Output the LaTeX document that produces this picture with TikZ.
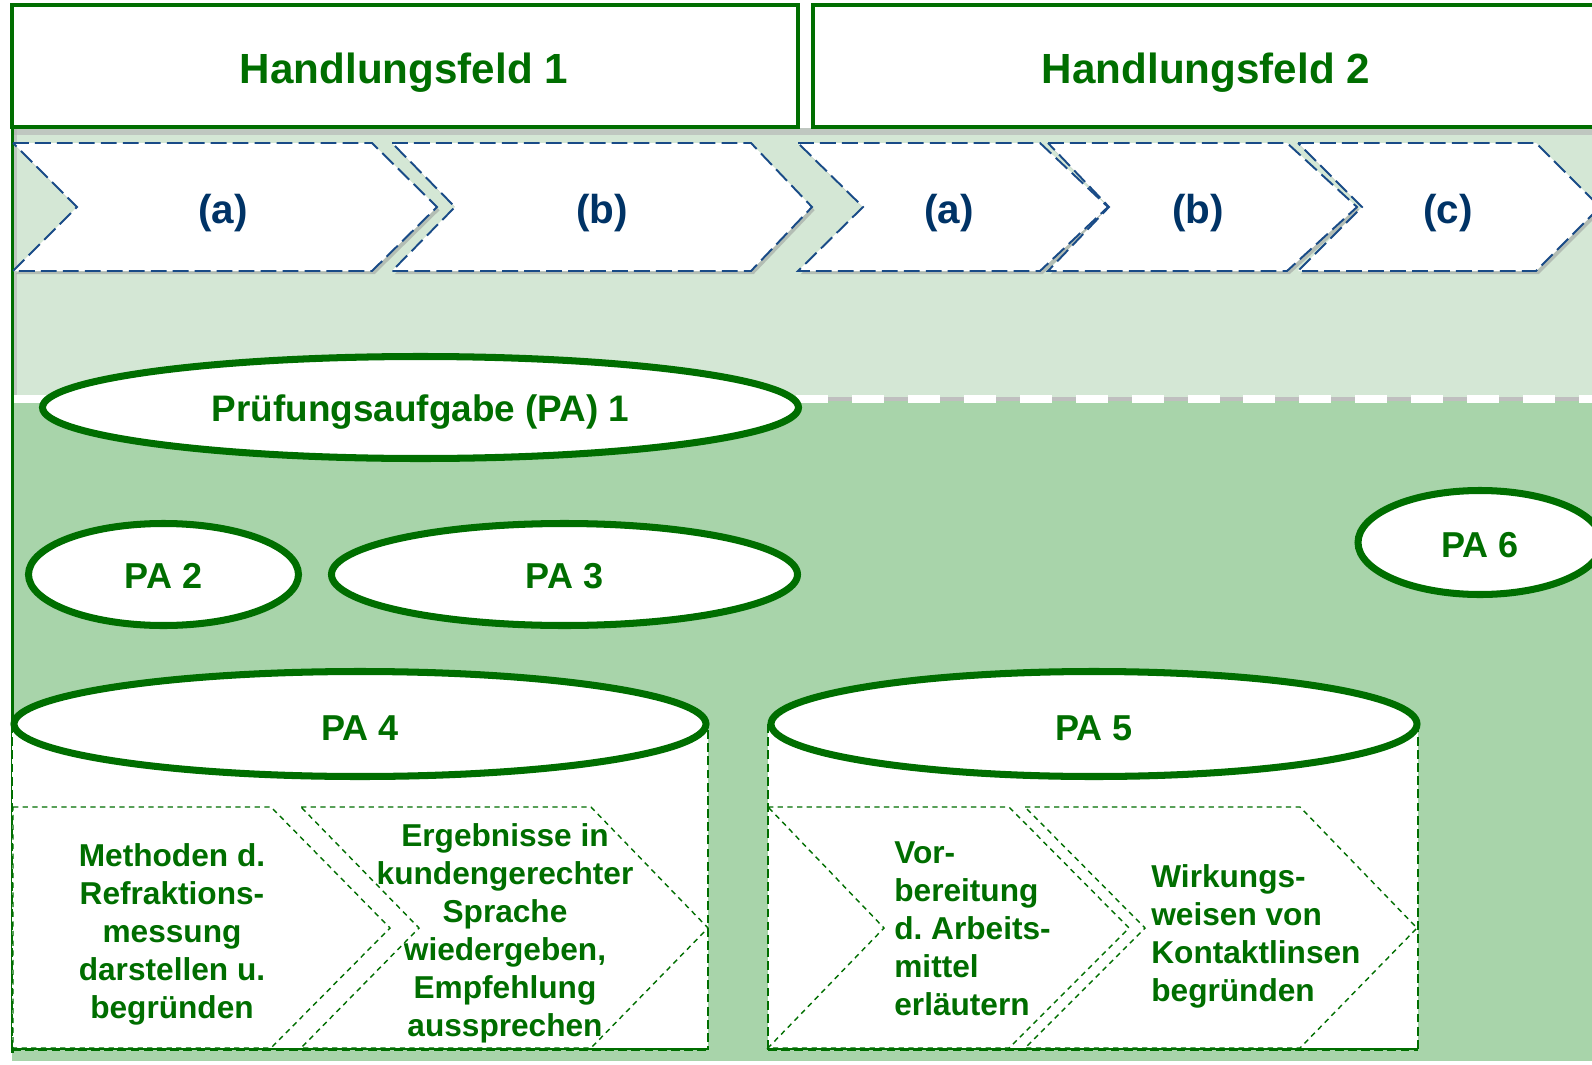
\documentclass[tikz,border=0pt]{standalone}
\usepackage{fontspec}
\setmainfont{Liberation Sans}
\usetikzlibrary{shadows}
\frenchspacing

\definecolor{hfgreen}{RGB}{0,110,0}
\definecolor{bandlight}{RGB}{212,231,213}
\definecolor{bandmid}{RGB}{168,212,170}
\definecolor{stepblue}{RGB}{0,51,102}
\definecolor{stepline}{RGB}{25,75,135}

\begin{document}
\begin{tikzpicture}[scale=0.2]
\tikzstyle{every node}+=[inner sep=0pt]
\tikzstyle{stepbox}=[stepline, fill=white, line width=1.1pt, dash pattern=on 9pt off 3.5pt,
  drop shadow={shadow xshift=1.5pt, shadow yshift=-1.8pt, fill=black!45, opacity=0.45}]
\tikzstyle{steplabel}=[stepblue, font=\fontsize{23}{27}\selectfont\bfseries]
\tikzstyle{hfbox}=[hfgreen, fill=white, line width=2.3pt]
\tikzstyle{hflabel}=[hfgreen, font=\fontsize{24}{29}\selectfont\bfseries]
\tikzstyle{paoval}=[hfgreen, fill=white, line width=4pt]
\tikzstyle{palabel}=[hfgreen, font=\fontsize{20.5}{25}\selectfont\bfseries]
\tikzstyle{cylside}=[hfgreen, line width=1.1pt, dash pattern=on 5pt off 2.5pt]
\tikzstyle{subbox}=[hfgreen, line width=0.8pt, dash pattern=on 3pt off 2.5pt]
\tikzstyle{subtext}=[hfgreen, font=\fontsize{18}{21.6}\selectfont\bfseries\frenchspacing]
\useasboundingbox (0,0) rectangle (159.2,-106.5);
\clip (0,0) rectangle (159.2,-106.5);
% background bands
\fill [bandlight] (1.2,-12.8) rectangle (159.2,-39.9);
\fill [bandmid] (1.2,-39.9) rectangle (159.2,-106.1);
\fill [black!30, opacity=0.6] (1.2,-12.8) rectangle (159.2,-13.5);
\fill [black!30, opacity=0.6] (1.2,-12.8) rectangle (1.7,-39.5);
\draw [black!25, line width=1.8pt] (1.4,-39.9) -- (159.2,-39.9);
\draw [white, line width=4.5pt, dash pattern=on 18.2pt off 13.6pt] (1.4,-39.9) -- (159.2,-39.9);
\draw [hfgreen, line width=1.7pt] (1.25,-12.8) -- (1.25,-105.3);
% Handlungsfelder
\draw [hfbox] (1.2,-0.5) rectangle (79.8,-12.7);
\draw (40.4,-7.3) node (hf1) [hflabel] {Handlungsfeld 1};
\draw [hfbox] (81.3,-0.5) rectangle (161,-12.7);
\draw (120.6,-7.3) node (hf2) [hflabel] {Handlungsfeld 2};
% steps
\draw [stepbox] (1.3,-14.3) -- (37.2,-14.3) -- (43.7,-20.7) -- (37.2,-27.1) -- (1.3,-27.1) -- (7.7,-20.7) -- cycle;
\draw (22.3,-21.3) node (s1a) [steplabel] {(a)};
\draw [stepbox] (39.2,-14.3) -- (75.1,-14.3) -- (81.2,-20.7) -- (75.1,-27.1) -- (39.2,-27.1) -- (45.5,-20.7) -- cycle;
\draw (60.2,-21.3) node (s1b) [steplabel] {(b)};
\draw [stepbox] (79.8,-14.3) -- (104.0,-14.3) -- (110.8,-20.7) -- (104.0,-27.1) -- (79.8,-27.1) -- (86.3,-20.7) -- cycle;
\draw (94.9,-21.3) node (s2a) [steplabel] {(a)};
\draw [stepbox] (104.8,-14.3) -- (128.7,-14.3) -- (135.7,-20.7) -- (128.7,-27.1) -- (104.8,-27.1) -- (110.9,-20.7) -- cycle;
\draw (119.8,-21.3) node (s2b) [steplabel] {(b)};
\draw [stepbox] (129.8,-14.3) -- (153.6,-14.3) -- (160.0,-20.7) -- (153.6,-27.1) -- (129.8,-27.1) -- (136.2,-20.7) -- cycle;
\draw (144.8,-21.3) node (s2c) [steplabel] {(c)};
% Pruefungsaufgaben
\draw [paoval] (42.05,-40.75) ellipse (37.8 and 5.1);
\draw (42.05,-41.2) node (pa1) [palabel, font=\fontsize{21}{25}\selectfont\bfseries] {Prüfungsaufgabe (PA) 1};
\draw [paoval] (16.35,-57.45) ellipse (13.5 and 5.1);
\draw (16.35,-57.6) node (pa2) [palabel] {PA 2};
\draw [paoval] (56.45,-57.45) ellipse (23.3 and 5.1);
\draw (56.45,-57.6) node (pa3) [palabel] {PA 3};
\draw [paoval] (148.0,-54.25) ellipse (12.2 and 5.2);
\draw (148.0,-54.5) node (pa6) [palabel] {PA 6};
% PA 4
\fill [white] (1.2,-72.4) rectangle (70.8,-104.9);
\draw [cylside] (1.2,-72.4) -- (1.2,-104.9) -- (70.8,-104.9) -- (70.8,-72.4);
\draw [hfgreen, line width=1.7pt, dash pattern=on 5pt off 2.5pt] (1.2,-104.9) -- (70.8,-104.9);
\draw [subbox] (1.3,-80.7) -- (27.1,-80.7) -- (39.0,-92.8) -- (27.1,-104.8) -- (1.3,-104.8) -- cycle;
\draw (17.2,-93.4) node (pa4a) [subtext, align=center] {Methoden d.\\Refraktions-\\messung\\darstellen u.\\begründen};
\draw [subbox] (30.1,-80.7) -- (59.1,-80.7) -- (70.8,-92.8) -- (59.1,-104.8) -- (30.1,-104.8) -- (41.9,-92.8) -- cycle;
\draw (50.5,-93.3) node (pa4b) [subtext, align=center] {Ergebnisse in\\kundengerechter\\Sprache\\wiedergeben,\\Empfehlung\\aussprechen};
\draw [paoval] (36.0,-72.4) ellipse (34.6 and 5.25);
\draw (36.0,-72.8) node (pa4) [palabel] {PA 4};
% PA 5
\fill [white] (76.8,-72.4) rectangle (141.8,-104.9);
\draw [cylside] (76.8,-72.4) -- (76.8,-104.9) -- (141.8,-104.9) -- (141.8,-72.4);
\draw [hfgreen, line width=1.7pt, dash pattern=on 5pt off 2.5pt] (76.8,-104.9) -- (141.8,-104.9);
\draw [subbox] (76.8,-80.7) -- (100.9,-80.7) -- (112.9,-92.8) -- (100.9,-104.8) -- (76.8,-104.8) -- (88.4,-92.8) -- cycle;
\draw (89.4,-92.9) node (pa5a) [subtext, align=left, anchor=west] {Vor-\\bereitung\\d. Arbeits-\\mittel\\erläutern};
\draw [subbox] (102.5,-80.7) -- (130.0,-80.7) -- (141.7,-92.8) -- (130.0,-104.8) -- (102.5,-104.8) -- (114.5,-92.8) -- cycle;
\draw (115.1,-93.6) node (pa5b) [subtext, align=left, anchor=west] {Wirkungs-\\weisen von\\Kontaktlinsen\\begründen};
\draw [paoval] (109.4,-72.4) ellipse (32.3 and 5.25);
\draw (109.4,-72.8) node (pa5) [palabel] {PA 5};
\end{tikzpicture}
\end{document}
